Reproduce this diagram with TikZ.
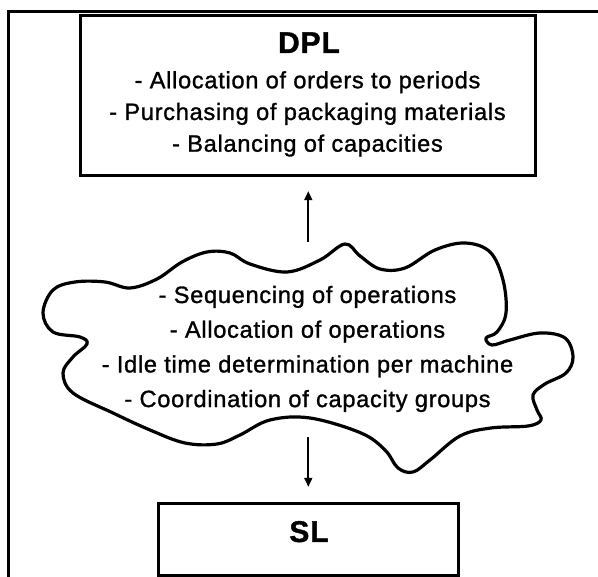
\documentclass[tikz,border=0pt]{standalone}
\usepackage{fontspec}
\setmainfont{Liberation Sans}[LetterSpace=3, FakeBold=1.2]
\usetikzlibrary{arrows.meta}
\begin{document}
\begin{tikzpicture}[x=1pt,y=1pt,>={Triangle[length=9pt,width=8pt]},
  box/.style={draw, line width=3pt, inner sep=0pt},
  item/.style={anchor=base, inner sep=0pt, font=\fontsize{23.6}{28}\selectfont},
  head/.style={anchor=base, inner sep=0pt, font=\fontsize{30}{34}\selectfont\bfseries},
  link/.style={->, line width=1.7pt}]
\useasboundingbox (0,0) rectangle (598,577);

% The frame
\draw[line width=3pt] (8.5,0) -- (8.5,565.8) -- (598,565.8);

% The boxes
\node[box, minimum width=455.3pt, minimum height=160pt] (dpl) at (308.3,481.3) {};
\node[box, minimum width=300pt, minimum height=71.7pt] (sl) at (308.3,37.8) {};
\node[head] (dpltitle) at (309,524) {DPL};
\node[head] (sltitle) at (309,35) {SL};
\foreach \t [count=\i] in {- Allocation of orders to periods,
  - Purchasing of packaging materials, - Balancing of capacities}
  \node[item] (dpl\i) at (307.5,{520.4-31.7*\i}) {\t};

% The cloud
\draw[line width=3.2pt, line join=round] plot[smooth cycle, tension=0.6] coordinates {
  (43,264) (53,287) (75,295) (105,295) (130,289) (157,298) (182,315)
  (207,325) (230,324) (250,313) (287,305) (320,317) (345,333) (360,321)
  (380,308) (405,309) (435,327) (465,334) (490,325) (503,297) (506,264)
  (497,245) (486,239) (492,232) (510,237) (540,244) (565,239) (573,220)
  (566,204) (545,193) (533,182) (537,167) (541,157) (528,151) (491,149)
  (460,141) (430,117) (413,105) (398,109) (385,127) (361,144) (310,159)
  (270,157) (240,142) (217,133) (185,134) (150,147) (113,164) (73,184)
  (63,204) (73,220) (87,233) (80,240) (53,245)};
\foreach \t [count=\i] in {- Sequencing of operations, - Allocation of operations,
  - Idle time determination per machine, - Coordination of capacity groups}
  \node[item] (op\i) at (307.5,{308.7-34.7*\i}) {\t};

% The arrows
\coordinate (ctop) at (308.3,335);
\coordinate (cbot) at (308.3,140);
\draw[link, shorten >=14pt] (ctop) -- (dpl.south);
\draw[link, shorten >=15pt] (cbot) -- (sl.north);
\end{tikzpicture}
\end{document}
